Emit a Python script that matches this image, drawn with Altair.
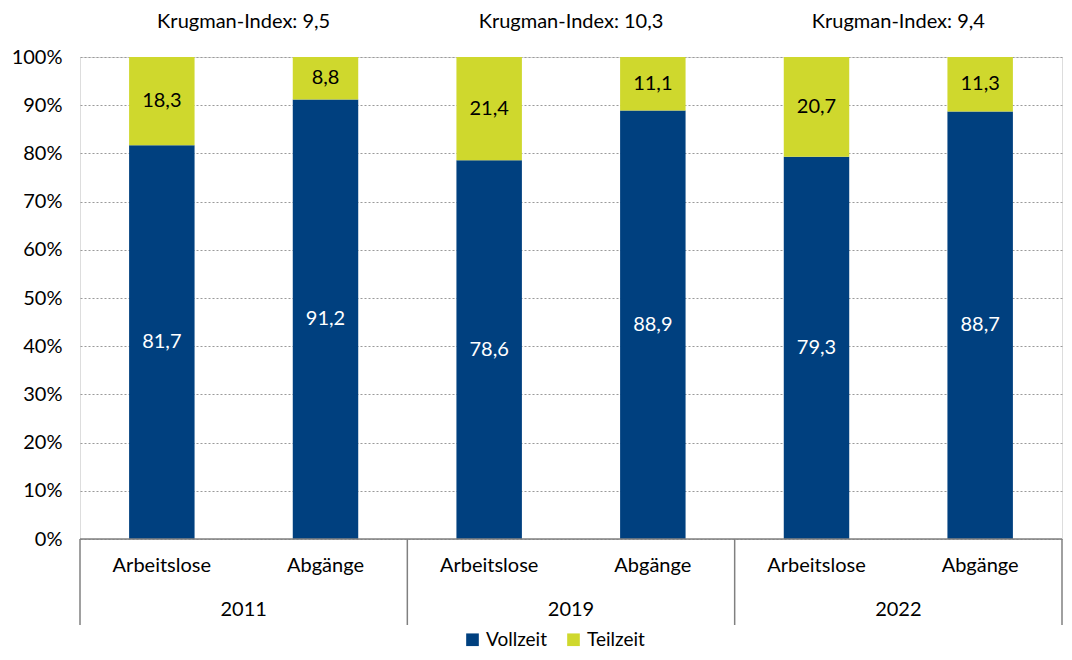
import altair as alt
import pandas as pd

years = ["2011", "2019", "2022"]
groups = ["Arbeitslose", "Abgänge"]
vollzeit = [81.7, 91.2, 78.6, 88.9, 79.3, 88.7]
teilzeit = [18.3, 8.8, 21.4, 11.1, 20.7, 11.3]
krugman = ["9,5", "10,3", "9,4"]
series = ["Vollzeit", "Teilzeit"]
colors = ["#00407f", "#cfd82d"]

FONT = "Lato"
FS = 20
GRAY = "#808080"

rows = []
for i, (v, t) in enumerate(zip(vollzeit, teilzeit)):
    year = years[i // 2]
    grp = groups[i % 2]
    rows.append(dict(idx=i, year=year, grp=grp, series="Vollzeit", ord=0, lo=0.0, hi=v, val=v))
    rows.append(dict(idx=i, year=year, grp=grp, series="Teilzeit", ord=1, lo=v, hi=v + t, val=t))
df = pd.DataFrame(rows)
df["label"] = df["val"].map(lambda x: f"{x:.1f}".replace(".", ","))
df["mid"] = (df["lo"] + df["hi"]) / 2

cats = pd.DataFrame({"idx": list(range(6)), "grp": [groups[i % 2] for i in range(6)]})
yrs = pd.DataFrame({"j": list(range(3)), "year": years,
                    "krug": [f"Krugman-Index: {k}" for k in krugman]})
seps = pd.DataFrame({"s": [0, 2, 4, 6]})

xscale = alt.Scale(domain=[0, 6], nice=False, zero=False)
yscale = alt.Scale(domain=[0, 100], nice=False)

bars = alt.Chart(df).transform_calculate(
    x0="datum.idx + 0.3", x1="datum.idx + 0.7"
).mark_bar().encode(
    x=alt.X("x0:Q", scale=xscale, axis=None),
    x2="x1:Q",
    y=alt.Y("lo:Q", scale=yscale, axis=alt.Axis(
        values=list(range(0, 101, 10)), labelExpr="datum.value + '%'",
        grid=True, gridDash=[2, 2], gridColor="#9a9a9a", gridWidth=1.2,
        domain=False, ticks=False, labelPadding=18, labelFontSize=FS,
        labelColor="#000000", title=None, labelFont=FONT)),
    y2="hi:Q",
    color=alt.Color("series:N", scale=alt.Scale(domain=series, range=colors),
                    legend=alt.Legend(title=None, orient="none", direction="horizontal",
                                      legendX=383, legendY=573, symbolType="square",
                                      symbolSize=160, symbolStrokeWidth=0,
                                      labelFontSize=19, labelFont=FONT,
                                      labelColor="#000000", columnPadding=17,
                                      labelOffset=4)),
    order=alt.Order("ord:Q"),
)

bar_text = alt.Chart(df).transform_calculate(
    xc="datum.idx + 0.5"
).mark_text(fontSize=FS, font=FONT).encode(
    x=alt.X("xc:Q", scale=xscale),
    y=alt.Y("mid:Q", scale=yscale),
    text="label:N",
    color=alt.condition(alt.datum.series == "Vollzeit", alt.value("#ffffff"), alt.value("#000000")),
)

baseline = alt.Chart(pd.DataFrame({"a": [0], "b": [6], "y": [0]})).mark_rule(
    color=GRAY, strokeWidth=1.5
).encode(
    x=alt.X("a:Q", scale=xscale), x2="b:Q", y=alt.Y("y:Q", scale=yscale)
)

sep_rules = alt.Chart(seps).mark_rule(color=GRAY, strokeWidth=1.5).encode(
    x=alt.X("s:Q", scale=xscale), y=alt.value(482), y2=alt.value(568)
)

cat_text = alt.Chart(cats).transform_calculate(
    xc="datum.idx + 0.5"
).mark_text(fontSize=FS, font=FONT, color="#000000").encode(
    x=alt.X("xc:Q", scale=xscale), y=alt.value(509), text="grp:N"
)

year_text = alt.Chart(yrs).transform_calculate(
    xc="datum.j * 2 + 1"
).mark_text(fontSize=FS, font=FONT, color="#000000").encode(
    x=alt.X("xc:Q", scale=xscale), y=alt.value(553), text="year:N"
)

krug_text = alt.Chart(yrs).transform_calculate(
    xc="datum.j * 2 + 1"
).mark_text(fontSize=FS, font=FONT, color="#000000").encode(
    x=alt.X("xc:Q", scale=xscale), y=alt.value(-35), text="krug:N"
)

chart = alt.layer(
    bars, bar_text, baseline, sep_rules, cat_text, year_text, krug_text
).properties(
    width=982, height=482,
    autosize=alt.AutoSizeParams(type="none"),
    padding={"left": 72, "top": 49, "right": 2, "bottom": 113},
).configure_view(stroke=None).configure(font=FONT)

chart.save("out.html", embed_options={"renderer": "svg", "actions": False})
